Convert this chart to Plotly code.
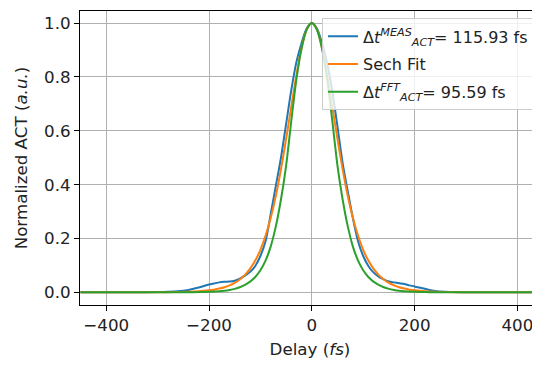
import plotly.graph_objects as go

# Delay axis samples (fs)
delay = [-450, -400, -350, -300, -280, -260, -240, -220, -200, -190, -180, -170, -160, -150,
         -140, -130, -120, -110, -100, -90, -80, -70, -60, -50, -40, -30, -20, -10, 0,
         10, 20, 30, 40, 50, 60, 70, 80, 90, 100, 110, 120, 130, 140, 150, 160, 170, 180,
         190, 200, 220, 240, 260, 280, 300, 350, 400, 450]

# Measured autocorrelation (normalized)
act_meas = [0.0002, 0.0003, 0.0005, 0.001, 0.002, 0.004, 0.009, 0.018, 0.029, 0.033, 0.037,
            0.039, 0.040, 0.043, 0.051, 0.062, 0.076, 0.098, 0.135, 0.19, 0.29, 0.395, 0.50,
            0.625, 0.75, 0.855, 0.925, 0.98, 1.0,
            0.98, 0.925, 0.85, 0.745, 0.615, 0.48, 0.375, 0.275, 0.19, 0.135, 0.098, 0.074,
            0.058, 0.048, 0.040, 0.037, 0.034, 0.031, 0.026, 0.022, 0.013, 0.005, 0.002,
            0.001, 0.0005, 0.0002, 0.0001, 0.0001]

# Sech fit
act_sech = [0.0, 0.0, 0.0001, 0.0003, 0.0006, 0.0011, 0.0021, 0.0039, 0.0074, 0.010, 0.014,
            0.019, 0.026, 0.035, 0.048, 0.065, 0.088, 0.118, 0.158, 0.210, 0.276, 0.358, 0.457,
            0.569, 0.689, 0.807, 0.907, 0.976, 1.0,
            0.976, 0.907, 0.807, 0.689, 0.569, 0.457, 0.358, 0.276, 0.210, 0.158, 0.118, 0.088,
            0.065, 0.048, 0.035, 0.026, 0.019, 0.014, 0.010, 0.0074, 0.0039, 0.0021, 0.0011,
            0.0006, 0.0003, 0.0001, 0.0, 0.0]

# FFT-derived autocorrelation
act_fft = [0.0, 0.0, 0.0, 0.0001, 0.0002, 0.0003, 0.0006, 0.001, 0.002, 0.003, 0.004, 0.006,
           0.009, 0.013, 0.019, 0.028, 0.04, 0.057, 0.082, 0.118, 0.17, 0.245, 0.345, 0.47,
           0.635, 0.79, 0.905, 0.975, 1.0,
           0.975, 0.905, 0.79, 0.635, 0.47, 0.345, 0.245, 0.17, 0.118, 0.082, 0.057, 0.04,
           0.028, 0.019, 0.013, 0.009, 0.006, 0.004, 0.003, 0.002, 0.001, 0.0006, 0.0003,
           0.0002, 0.0001, 0.0, 0.0, 0.0]

names = ["Δ<i>t</i><sup><i>MEAS</i></sup><sub><i>ACT</i></sub>= 115.93 fs",
         "Sech Fit",
         "Δ<i>t</i><sup><i>FFT</i></sup><sub><i>ACT</i></sub>= 95.59 fs"]
colors = ["#1f77b4", "#ff7f0e", "#2ca02c"]
x_ticks = [-400, -200, 0, 200, 400]
y_ticks = [0.0, 0.2, 0.4, 0.6, 0.8, 1.0]

FS = 16.7

fig = go.Figure()
for i, (ys, nm, c) in enumerate(zip([act_meas, act_sech, act_fft], names, colors)):
    fig.add_trace(go.Scatter(x=delay, y=ys, mode="lines", name=nm, legendgroup=f"g{i}",
                             line=dict(color=c, width=2, shape="spline", smoothing=0.8)))

axis_common = dict(showline=True, linecolor="black", linewidth=1, mirror=True,
                   ticks="outside", ticklen=5, tickwidth=1, tickcolor="black",
                   showgrid=True, gridcolor="#b0b0b0", gridwidth=1, zeroline=False,
                   automargin=False,
                   tickfont=dict(size=FS, color="#222"))

# the page body has an 8px margin, so the figure is sized/positioned to compensate
fig.update_layout(
    width=532, height=357,
    margin=dict(l=72, r=0, t=3, b=60, autoexpand=False),
    paper_bgcolor="white", plot_bgcolor="white",
    font=dict(family="DejaVu Sans", size=FS, color="#222"),
    xaxis=dict(range=[-451, 444], tickvals=x_ticks,
               ticktext=["\u2212400", "\u2212200", "0", "200", "400"],
               title=dict(text="Delay (<i>fs</i>)", standoff=9, font=dict(size=FS)),
               **axis_common),
    yaxis=dict(range=[-0.047, 1.045], tickvals=y_ticks,
               ticktext=["0.0", "0.2", "0.4", "0.6", "0.8", "1.0"],
               title=dict(text="Normalized ACT (<i>a.u.</i>)", standoff=12, font=dict(size=FS)),
               **axis_common),
    legend=dict(x=0.987, y=0.975, xanchor="right", yanchor="top",
                bgcolor="rgba(255,255,255,0.8)", bordercolor="#cccccc", borderwidth=1,
                font=dict(size=FS - 0.7, color="#222"), itemwidth=30, tracegroupgap=4),
    showlegend=True,
)

fig.write_html("out.html")
